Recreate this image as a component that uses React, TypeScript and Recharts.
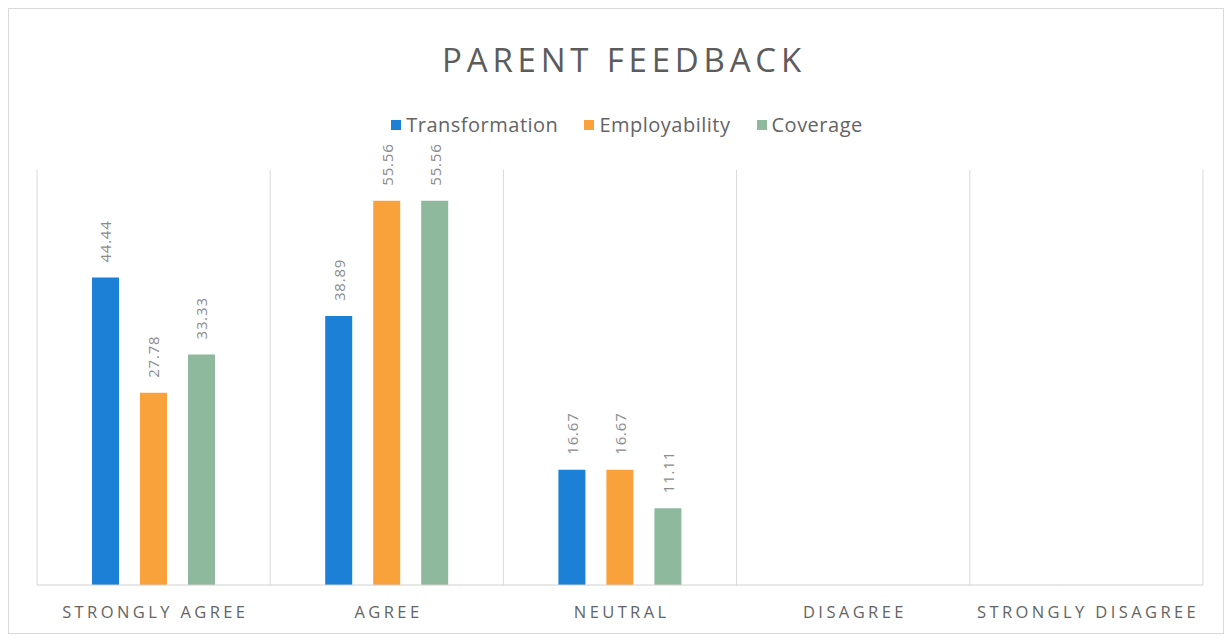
import { BarChart, Bar, XAxis, YAxis, CartesianGrid, Legend, LabelList } from "recharts"

const categories = ["STRONGLY AGREE", "AGREE", "NEUTRAL", "DISAGREE", "STRONGLY DISAGREE"]
const seriesNames = ["Transformation", "Employability", "Coverage"]
const transformation = [44.44, 38.89, 16.67, 0, 0]
const employability = [27.78, 55.56, 16.67, 0, 0]
const coverage = [33.33, 55.56, 11.11, 0, 0]

const data = categories.map((name, i) => ({
  name,
  Transformation: transformation[i],
  Employability: employability[i],
  Coverage: coverage[i],
}))

const FONT = "'Open Sans', 'Noto Sans', sans-serif"
const GRAY = "#646464"

function renderLabel(props: any) {
  const { x, y, width, value } = props
  if (!value) return null
  const cx = x + width / 2
  const ty = y - 15
  return (
    <text
      x={cx}
      y={ty}
      transform={`rotate(-90 ${cx} ${ty})`}
      textAnchor="start"
      dominantBaseline="central"
      fontSize={15}
      letterSpacing={0.8}
      fill="#8c8c8c"
      fontFamily={FONT}
    >
      {value.toFixed(2)}
    </text>
  )
}

function CategoryTick(props: any) {
  const { x, y, payload } = props
  return (
    <text
      x={x + 1.7}
      y={y + 18}
      textAnchor="middle"
      dominantBaseline="central"
      fontSize={16.5}
      letterSpacing={3.4}
      fill={GRAY}
      fontFamily={FONT}
    >
      {payload.value}
    </text>
  )
}

function LegendContent(props: any) {
  const items = [...(props.payload || [])].sort(
    (a: any, b: any) => seriesNames.indexOf(a.value) - seriesNames.indexOf(b.value)
  )
  return (
    <div style={{ display: "flex", justifyContent: "center", gap: 26, fontFamily: FONT, paddingLeft: 22 }}>
      {items.map((it: any) => (
        <div key={it.value} style={{ display: "flex", alignItems: "center", gap: 5 }}>
          <span style={{ display: "inline-block", width: 10, height: 10, background: it.color }} />
          <span style={{ fontSize: 20, letterSpacing: 0.5, color: GRAY, lineHeight: "24px" }}>{it.value}</span>
        </div>
      ))}
    </div>
  )
}

export default function App() {
  return (
    <div
      style={{
        position: "relative",
        width: 1214,
        height: 624,
        border: "1px solid #d9d9d9",
        background: "#fff",
      }}
    >
      <div
        style={{
          position: "absolute",
          top: 29,
          left: 8,
          width: "100%",
          textAlign: "center",
          fontFamily: FONT,
          fontSize: 33,
          letterSpacing: 4.8,
          color: "#5c5c5c",
          lineHeight: "44px",
        }}
      >
        PARENT FEEDBACK
      </div>
      <BarChart
        width={1214}
        height={624}
        data={data}
        margin={{ top: 137, right: 20, bottom: 18, left: 28 }}
        barSize={27}
        barGap={21}
      >
        <CartesianGrid
          horizontal={false}
          stroke="#d9d9d9"
          verticalCoordinatesGenerator={({ offset }: any) =>
            categories
              .map((_, i) => offset.left + (i * offset.width) / categories.length)
              .concat(offset.left + offset.width)
          }
        />
        <XAxis
          dataKey="name"
          height={30}
          axisLine={{ stroke: "#d0d0d0" }}
          tickLine={false}
          tick={<CategoryTick />}
          interval={0}
        />
        <YAxis hide domain={[0, 60]} />
        <Legend
          verticalAlign="top"
          height={24}
          content={<LegendContent />}
          wrapperStyle={{ top: 104, left: 0, width: 1214 }}
        />
        <Bar dataKey="Transformation" fill="#1c80d6" isAnimationActive={false}>
          <LabelList dataKey="Transformation" content={renderLabel} />
        </Bar>
        <Bar dataKey="Employability" fill="#f9a23c" isAnimationActive={false}>
          <LabelList dataKey="Employability" content={renderLabel} />
        </Bar>
        <Bar dataKey="Coverage" fill="#8fb99d" isAnimationActive={false}>
          <LabelList dataKey="Coverage" content={renderLabel} />
        </Bar>
      </BarChart>
    </div>
  )
}
